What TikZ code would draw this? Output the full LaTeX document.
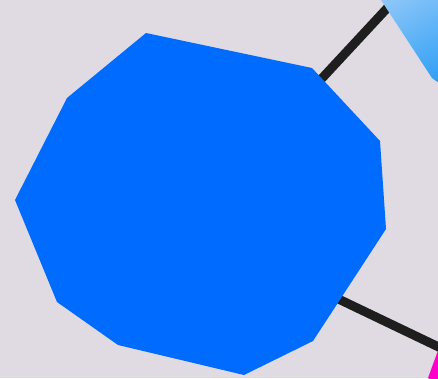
\documentclass[tikz,border=0pt]{standalone}
\usepackage{tikz}
\usepackage{xcolor}
\definecolor{bgcol}{HTML}{E0DBE3}
\definecolor{hubblue}{HTML}{006BFF}
\definecolor{skytop}{HTML}{92C9F9}
\definecolor{skybot}{HTML}{2B9DF4}
\definecolor{pinkcol}{HTML}{FF00CC}
\definecolor{linkcol}{HTML}{1E1E1E}
\tikzset{link/.style={draw=linkcol,line width=9pt}}
\begin{document}
\begin{tikzpicture}[x=1pt,y=-1pt]
\fill[bgcol] (0,0) rectangle (438,378);
\useasboundingbox (0,0) rectangle (438,378);
\clip (0,0) rectangle (438,378);
\coordinate (hubA) at (209,200);
\coordinate (hubB) at (209,237);
\coordinate (sky) at (430,-38);
\coordinate (pink) at (470,362);
\draw[link] (hubA)--(sky);
\draw[link] (hubB)--(pink);
\shade[top color=skytop,bottom color=skybot,shading angle=30]
  (370,-20)--(381,0)--(432,78) [rounded corners=5pt]--(440,84)--(470,90)--(470,-20)--cycle;
\fill[pinkcol] (440,345)--(428,378)--(470,400)--(470,340)--cycle;
\fill[hubblue] (146,33)--(312,68)--(380,141)--(386,229)--(313,341)--(244,375)
  --(118,345)--(57,302)--(15,200)--(67,98)--cycle;
\end{tikzpicture}
\end{document}
